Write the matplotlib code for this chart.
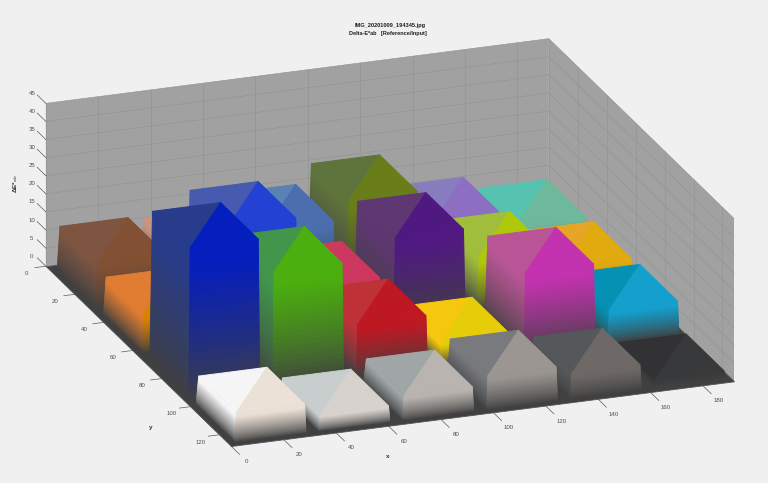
# carta de color: Delta-E*ab por parche, referencia contra entrada
import numpy as np
import matplotlib
matplotlib.use("Agg")
import matplotlib.pyplot as plt
from mpl_toolkits.mplot3d.art3d import Poly3DCollection
from mpl_toolkits.mplot3d import proj3d

plt.rcParams['font.family'] = ['Liberation Sans', 'DejaVu Sans']

# ---------------- datos ----------------
# alturas por fila (atras -> frente), columnas de x=0 a x=160
delta_e_fila1 = [11.6, 11.0, 14.8, 20.0, 10.8, 7.2]
delta_e_fila2 = [10.0, 31.0, 11.5, 22.0, 13.8, 8.0]
delta_e_fila3 = [40.6, 31.0, 13.5, 5.5, 21.8, 8.6]
delta_e_fila4 = [7.5, 4.0, 6.3, 8.8, 6.4, 1.8]
alturas = [delta_e_fila1, delta_e_fila2, delta_e_fila3, delta_e_fila4]

# color de referencia (triangulo y cara izquierda)
referencia = [
    ['#7d5541', '#c89682', '#5a82b4', '#5f733c', '#877dbe', '#55c3af'],
    ['#e17d32', '#465aaf', '#cd3c5a', '#5f3773', '#a0be3c', '#e6a528'],
    ['#283c8c', '#41964b', '#be3237', '#f5c80f', '#b95596', '#0591b4'],
    ['#f5f5f5', '#c8cdcd', '#a0a5a5', '#787a7d', '#55585a', '#323234'],
]
# color de entrada (triangulo y cara frontal)
entrada = [
    ['#825032', '#c38c6e', '#4b6eaf', '#697d19', '#8c6ec3', '#6eb99b'],
    ['#dc8200', '#2341d2', '#cd375f', '#501982', '#afc80a', '#e1aa0f'],
    ['#051ebe', '#4baf0f', '#be1923', '#e6cd0a', '#c332af', '#14a0cd'],
    ['#ebe1d7', '#d7d2cd', '#b9b4af', '#9b9691', '#6e6966', '#38393b'],
]
x_ticks = list(range(0, 181, 20))
y_ticks = list(range(0, 121, 20))
z_ticks = list(range(0, 46, 5))
x_max, y_max, z_max = 192, 128, 45
celda = 32

COLOR_BASE = np.array([64, 64, 64]) / 255
FONDO = '#f0f0f0'
COLOR_TICK = '#5a5a5a'
COLOR_TEXTO = '#505050'
COLOR_REJILLA = '#929292'

fig = plt.figure(figsize=(7.68, 4.83), dpi=100, facecolor=FONDO)
ax = fig.add_axes([0.1, 0.0, 0.6, 0.6 * 768 / 483], projection='3d', proj_type='ortho', computed_zorder=False)
ax.set_facecolor('none')
ax.set_xlim(0, x_max)
ax.set_ylim(y_max, 0)
ax.set_zlim(0, z_max)
ax.set_box_aspect((535, 541, 174))
ax.view_init(elev=20.7, azim=-110)

# las marcas de mplot3d no salen donde toca, se dibujan a mano mas abajo
ax.set_xticks([])
ax.set_yticks([])
ax.set_zticks([])

# paredes
for eje in (ax.xaxis, ax.yaxis, ax.zaxis):
    eje.set_pane_color((0.63, 0.63, 0.63, 1))
    eje.pane.set_edgecolor('none')
    eje.line.set_color('none')

# rejilla de las dos paredes y marcas (hacia fuera en la direccion del otro eje)
for v in x_ticks:
    ax.plot([v, v], [0, 0], [0, z_max], color=COLOR_REJILLA, lw=0.4, zorder=0)
    ax.plot([v, v], [y_max, y_max + 6], [0, 0], color=COLOR_TICK, lw=0.5, zorder=0)
for v in y_ticks:
    ax.plot([x_max, x_max], [v, v], [0, z_max], color=COLOR_REJILLA, lw=0.4, zorder=0)
    ax.plot([0, -4.2], [v, v], [0, 0], color=COLOR_TICK, lw=0.5, zorder=0)
for v in z_ticks:
    ax.plot([0, x_max], [0, 0], [v, v], color=COLOR_REJILLA, lw=0.4, zorder=0)
    ax.plot([x_max, x_max], [0, y_max], [v, v], color=COLOR_REJILLA, lw=0.4, zorder=0)
    ax.plot([0, 0], [0, -6], [v, v], color=COLOR_TICK, lw=0.5, zorder=0)


def cara(p_base_a, p_base_b, p_top_a, p_top_b, color, n=24):
    # cara lateral en degradado desde el gris oscuro de la base hasta el color
    quads, colores = [], []
    color = np.array(matplotlib.colors.to_rgb(color))
    for k in range(n):
        t0, t1 = k / n, (k + 1) / n
        a0 = p_base_a + (p_top_a - p_base_a) * t0
        b0 = p_base_b + (p_top_b - p_base_b) * t0
        a1 = p_base_a + (p_top_a - p_base_a) * t1
        b1 = p_base_b + (p_top_b - p_base_b) * t1
        quads.append([a0, b0, b1, a1])
        mezcla = min(1.0, ((t0 + t1) / 2) ** 0.75 * 1.1)
        colores.append(tuple(COLOR_BASE + (color - COLOR_BASE) * mezcla))
    return quads, colores


# suelo oscuro
suelo = Poly3DCollection([[(0, 0, 0), (x_max, 0, 0), (x_max, y_max, 0), (0, y_max, 0)]],
                         facecolors=[tuple(COLOR_BASE)], edgecolors='#555555', linewidths=0.6, zorder=1)
ax.add_collection3d(suelo)

# de atras hacia delante, y de x grande a x pequena
orden = 2
for j in range(4):
    for i in reversed(range(6)):
        z = alturas[j][i]
        x0, x1 = i * celda + 3, i * celda + 30
        y0, y1 = j * celda + 2.5, j * celda + 29.5
        b = [np.array(p, float) for p in [(x0, y0, 0), (x1, y0, 0), (x1, y1, 0), (x0, y1, 0)]]
        t = [np.array(p, float) for p in [(x0 + 1, y0, z), (x1, y0, z), (x1, y1 - 1, z), (x0 + 1, y1 - 1, z)]]
        q1, c1 = cara(b[0], b[3], t[0], t[3], referencia[j][i])
        q2, c2 = cara(b[3], b[2], t[3], t[2], entrada[j][i])
        q3 = [[t[0], t[1], t[3]], [t[1], t[2], t[3]]]
        c3 = [matplotlib.colors.to_rgb(referencia[j][i]), matplotlib.colors.to_rgb(entrada[j][i])]
        caja = Poly3DCollection(q1 + q2 + q3, facecolors=c1 + c2 + c3, edgecolors=c1 + c2 + c3, linewidths=0.7, zorder=orden)
        ax.add_collection3d(caja)
        orden += 1


# ajustar la posicion del cubo a los pixeles de la imagen
def a_pixel(x, y, z):
    px, py, _ = proj3d.proj_transform(x, y, z, ax.get_proj())
    return ax.transData.transform((px, py))


fig.canvas.draw()
p0 = a_pixel(0, y_max, 0)
p1 = a_pixel(x_max, y_max, 0)
factor = 503.0 / (p1[0] - p0[0])
pos = ax.get_position()
ax.set_position([pos.x0, pos.y0, pos.width * factor, pos.height * factor])
fig.canvas.draw()
p0 = a_pixel(0, y_max, 0)
pos = ax.get_position()
ax.set_position([pos.x0 + (231 - p0[0]) / 768, pos.y0 + ((483 - 446) - p0[1]) / 483, pos.width, pos.height])
fig.canvas.draw()


# etiquetas de los ticks, en la posicion proyectada de cada valor
def etiqueta(x, y, z, texto):
    px, py = fig.transFigure.inverted().transform(a_pixel(x, y, z))
    fig.text(px, py, texto, fontsize=4.4, color=COLOR_TEXTO, ha='center', va='center')


for v in x_ticks:
    etiqueta(v, y_max + 11, 0, str(v))
for v in y_ticks:
    etiqueta(-9, v + 3, 0, str(v))
for v in z_ticks:
    etiqueta(0, -9.7, v - 1, str(v))

fig.text(388 / 768, 1 - 456 / 483, 'x', ha='center', va='center', fontsize=4.6, fontweight='bold', color='#303030')
fig.text(151 / 768, 1 - 427 / 483, 'y', ha='center', va='center', fontsize=4.6, fontweight='bold', color='#303030')
fig.text(16 / 768, 1 - 184 / 483, 'ΔE*$_{ab}$', ha='center', va='center', rotation=90, fontsize=4.6, fontweight='bold', color='#303030')
fig.text(390 / 768, 1 - 26 / 483, 'IMG_20201009_194345.jpg', ha='center', va='center', fontsize=4.1, fontweight='bold', color='#202020')
fig.text(388 / 768, 1 - 33.5 / 483, 'Delta-E*ab   [Reference/Input]', ha='center', va='center', fontsize=4.0, fontweight='bold', color='#202020')

fig.savefig('out.png', dpi=100, facecolor=FONDO)
